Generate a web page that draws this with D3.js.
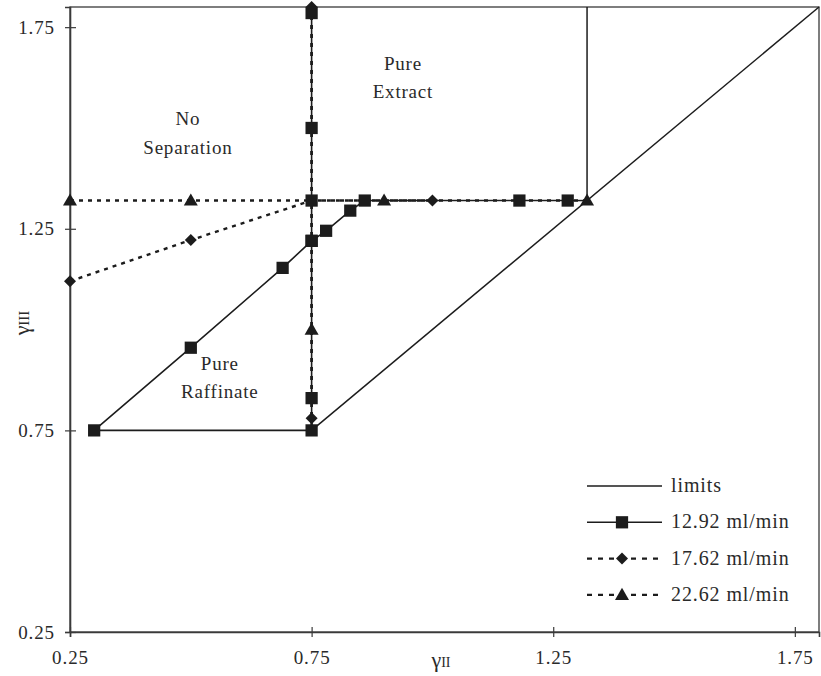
<!DOCTYPE html>
<html><head><meta charset="utf-8">
<script src="https://cdn.jsdelivr.net/npm/d3@7"></script>
<style>body{margin:0;background:#fff}svg{display:block}text{font-family:"Liberation Serif","Times New Roman",serif;fill:#2a2a2a}</style>
</head><body><svg id="c" width="821" height="676"></svg>
<script>
// ---- data ----
const xTicks = [0.25, 0.75, 1.25, 1.75];
const yTicks = [0.25, 0.75, 1.25, 1.75];
const xLabel = "γ", xSub = "II";
const yLabel = "γ", ySub = "III";
// limit lines (each a polyline)
const limits = [
  [[0.75, 0.75], [1.8, 1.8]],
  [[1.32, 1.32], [1.32, 1.8]],
  [[1.28, 1.32], [1.32, 1.32]]
];
// 12.92 ml/min (squares)
const s1292 = [
  [[0.75, 1.785], [0.75, 1.50], [0.75, 1.32], [0.75, 1.22], [0.75, 0.83], [0.75, 0.75], [0.30, 0.75]],
  [[0.30, 0.75], [0.50, 0.955], [0.69, 1.153], [0.75, 1.22], [0.78, 1.245], [0.83, 1.295], [0.86, 1.32], [1.18, 1.32], [1.28, 1.32]]
];
// 17.62 ml/min (diamonds)
const s1762 = [
  [[0.75, 1.80], [0.75, 0.78]],
  [[0.25, 1.12], [0.50, 1.222], [0.75, 1.32], [1.00, 1.32]]
];
// 22.62 ml/min (triangles)
const s2262 = [
  [[0.75, 1.80], [0.75, 1.00], [0.75, 0.75]],
  [[0.25, 1.32], [0.50, 1.32], [0.75, 1.32], [0.90, 1.32], [1.32, 1.32]]
];
const legendNames = ["limits", "12.92 ml/min", "17.62 ml/min", "22.62 ml/min"];
const regionLabels = [
  {t: ["No", "Separation"], x: 0.494, y: 1.507},
  {t: ["Pure", "Extract"], x: 0.939, y: 1.644},
  {t: ["Pure", "Raffinate"], x: 0.56, y: 0.90}
];

// ---- drawing ----
const svg = d3.select("#c");
const L = 70, R = 819, T = 7, B = 632;
const x = d3.scaleLinear().domain([0.25, 1.8]).range([L, R]);
const y = d3.scaleLinear().domain([0.25, 1.8]).range([B, T]);
const ink = "#1c1c1c";

// frame
svg.append("rect").attr("x", L).attr("y", T).attr("width", R - L).attr("height", B - T)
  .attr("fill", "none").attr("stroke", "#3a3a3a").attr("stroke-width", 1.3);

// axes
const ya = svg.append("g").attr("transform", `translate(${L},0)`)
  .call(d3.axisLeft(y).tickValues(yTicks).tickFormat(d3.format(".2f")).tickSize(5).tickPadding(10));
ya.selectAll(".tick line").attr("x2", 6).attr("x1", -5);
const xa = svg.append("g").attr("transform", `translate(0,${B})`)
  .call(d3.axisBottom(x).tickValues(xTicks).tickFormat(d3.format(".2f")).tickSize(5).tickPadding(14));
xa.selectAll(".tick line").attr("y1", -5).attr("y2", 5);
[ya, xa].forEach(g => {
  g.attr("font-family", null);
  g.select(".domain").attr("stroke", "#3a3a3a").attr("stroke-width", 1.6);
  g.selectAll(".tick line").attr("stroke", "#3a3a3a").attr("stroke-width", 1.2);
  g.selectAll(".tick text").attr("font-size", 19).attr("letter-spacing", 0.9)
    .style("font-family", '"Liberation Serif",serif').attr("fill", "#2a2a2a");
});

// axis titles
const xt = svg.append("text").attr("x", 441).attr("y", 667).attr("text-anchor", "middle").attr("font-size", 22);
xt.append("tspan").text(xLabel);
xt.append("tspan").attr("font-size", 14).text(xSub);
const yt = svg.append("text").attr("transform", "translate(29,323) rotate(-90)").attr("text-anchor", "middle").attr("font-size", 22);
yt.append("tspan").text(yLabel);
yt.append("tspan").attr("font-size", 15).text(ySub);

const line = d3.line().x(d => x(d[0])).y(d => y(d[1]));
const dash = "4,5";

// limits
limits.forEach(p => svg.append("path").attr("d", line(p)).attr("fill", "none").attr("stroke", ink).attr("stroke-width", 1.5));

// series lines
function drawLines(series, dashed, w) {
  series.forEach(p => svg.append("path").attr("d", line(p)).attr("fill", "none")
    .attr("stroke", ink).attr("stroke-width", w).attr("stroke-dasharray", dashed ? dash : null));
}
drawLines(s2262, true, 2.4);
drawLines(s1762, true, 2.4);
drawLines(s1292, false, 1.6);

const sym = {
  sq: {p: d3.symbol().type(d3.symbolSquare).size(150)(), r: 0},
  di: {p: d3.symbol().type(d3.symbolSquare).size(72)(), r: 45},
  tr: {p: d3.symbol().type(d3.symbolTriangle).size(85)(), r: 0}
};
function place(s, px, py) {
  return `translate(${px},${py + (s === "tr" ? 1 : 0)}) rotate(${sym[s].r})`;
}
function drawMarks(series, s) {
  const pts = [];
  series.forEach(p => p.forEach(d => pts.push(d)));
  svg.append("g").selectAll("path").data(pts).join("path")
    .attr("d", sym[s].p).attr("fill", ink)
    .attr("transform", d => place(s, x(d[0]), y(d[1])));
}
drawMarks(s2262.map((p, i) => i === 0 ? p.slice(1, 2) : p.filter(d => !(d[0] === 0.75))), "tr");
drawMarks(s1762.map((p, i) => p.filter(d => !(d[0] === 0.75 && d[1] === 1.32))), "di");
drawMarks(s1292.map((p, i) => i === 1 ? p.slice(1) : p), "sq");

// region labels
regionLabels.forEach(r => {
  const t = svg.append("text").attr("text-anchor", "middle").attr("font-size", 19).attr("letter-spacing", 0.8);
  r.t.forEach((s, i) => t.append("tspan").attr("x", x(r.x)).attr("y", y(r.y) + i * 28.5).text(s));
});

// legend
const lg = svg.append("g");
const ly0 = 486, ldy = 36.3;
legendNames.forEach((n, i) => {
  const yy = ly0 + i * ldy;
  lg.append("line").attr("x1", 587).attr("x2", 662).attr("y1", yy).attr("y2", yy)
    .attr("stroke", ink).attr("stroke-width", i < 2 ? 1.5 : 2.4).attr("stroke-dasharray", i < 2 ? null : "5,6");
  if (i > 0) {
    const s = ["", "sq", "di", "tr"][i];
    lg.append("path").attr("d", sym[s].p).attr("fill", ink).attr("transform", place(s, 622, yy));
  }
  lg.append("text").attr("x", 671).attr("y", yy + 6).attr("font-size", 20).attr("letter-spacing", 0.9).text(n);
});
</script></body></html>
